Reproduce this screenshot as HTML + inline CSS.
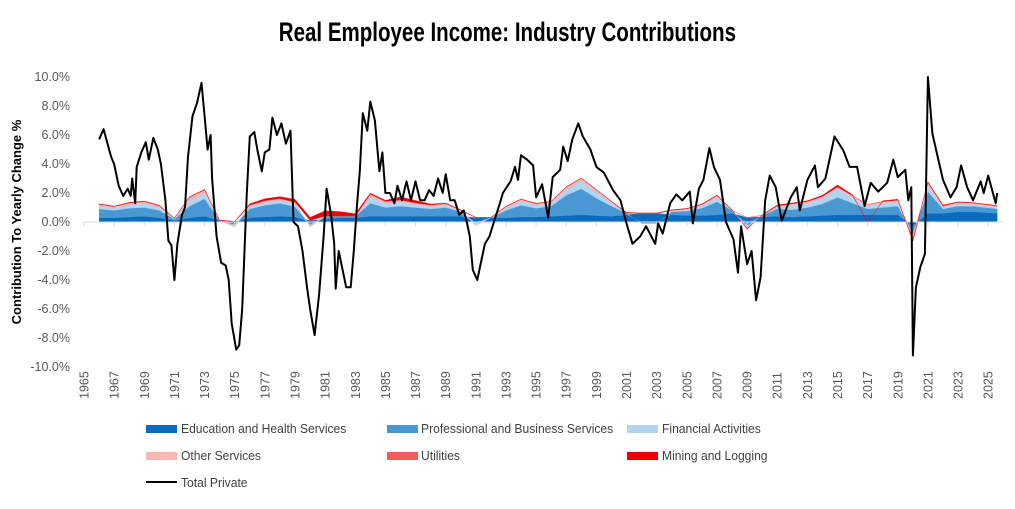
<!DOCTYPE html>
<html><head><meta charset="utf-8"><style>
body{margin:0;background:#fff;width:1015px;height:509px;overflow:hidden;font-family:"Liberation Sans",sans-serif}
#title{position:absolute;left:0;width:1015px;top:17px;text-align:center;font-family:"Liberation Sans",sans-serif;font-weight:bold;font-size:27px;color:#000;transform:scaleX(0.76);transform-origin:507px 0}
.leg{position:absolute;color:#404040;font-family:"Liberation Sans",sans-serif;font-size:13px;transform:scaleX(0.93);transform-origin:0 0}
.sw{position:absolute;width:31px;height:8px}
</style></head><body>
<div id="title">Real Employee Income: Industry Contributions</div>
<svg id="chart" width="1015" height="509" style="position:absolute;left:0;top:0"></svg>
<div>
<div class="sw" style="left:146px;top:425px;background:#0a6cbf"></div><div class="leg" style="left:181px;top:421px">Education and Health Services</div>
<div class="sw" style="left:387px;top:425px;background:#4a98d3"></div><div class="leg" style="left:421px;top:421px">Professional and Business Services</div>
<div class="sw" style="left:627px;top:425px;background:#b3d4ee"></div><div class="leg" style="left:662px;top:421px">Financial Activities</div>
<div class="sw" style="left:146px;top:452px;background:#f9b4b4"></div><div class="leg" style="left:181px;top:448px">Other Services</div>
<div class="sw" style="left:387px;top:452px;background:#f45b5b"></div><div class="leg" style="left:421px;top:448px">Utilities</div>
<div class="sw" style="left:627px;top:452px;background:#ee0000"></div><div class="leg" style="left:662px;top:448px">Mining and Logging</div>
<div class="sw" style="left:146px;top:481px;height:2px;background:#000"></div><div class="leg" style="left:181px;top:475px">Total Private</div>
</div>
<script>
const totalX=[1966.0,1966.3,1966.8,1967.0,1967.3,1967.6,1967.9,1968.1,1968.2,1968.4,1968.5,1968.8,1969.1,1969.3,1969.6,1969.9,1970.1,1970.4,1970.6,1970.8,1971.0,1971.2,1971.5,1971.7,1971.9,1972.2,1972.5,1972.8,1973.0,1973.2,1973.4,1973.5,1973.8,1974.1,1974.4,1974.6,1974.8,1975.1,1975.3,1975.5,1975.8,1976.0,1976.3,1976.5,1976.8,1977.0,1977.3,1977.5,1977.8,1978.1,1978.4,1978.7,1978.9,1979.2,1979.5,1979.8,1980.0,1980.3,1980.6,1980.9,1981.1,1981.4,1981.6,1981.7,1981.9,1982.1,1982.4,1982.7,1982.9,1983.1,1983.3,1983.5,1983.8,1984.0,1984.3,1984.6,1984.8,1985.0,1985.3,1985.6,1985.8,1986.1,1986.4,1986.7,1987.0,1987.3,1987.6,1987.9,1988.2,1988.5,1988.8,1989.0,1989.3,1989.6,1989.9,1990.2,1990.4,1990.6,1990.8,1991.1,1991.3,1991.6,1991.9,1992.2,1992.6,1992.8,1993.3,1993.6,1993.8,1994.0,1994.4,1994.8,1995.0,1995.4,1995.8,1996.1,1996.6,1996.8,1997.1,1997.4,1997.8,1998.1,1998.6,1999.0,1999.5,2000.1,2000.6,2001.0,2001.4,2001.9,2002.3,2002.9,2003.1,2003.4,2003.9,2004.3,2004.7,2005.2,2005.4,2005.8,2006.1,2006.5,2006.8,2007.2,2007.6,2008.1,2008.4,2008.6,2009.0,2009.3,2009.6,2009.9,2010.2,2010.5,2010.9,2011.3,2011.9,2012.3,2012.5,2013.0,2013.5,2013.7,2014.2,2014.8,2015.4,2015.8,2016.3,2016.8,2017.2,2017.7,2018.3,2018.7,2019.0,2019.5,2019.7,2019.9,2020.0,2020.2,2020.5,2020.8,2021.0,2021.3,2021.6,2022.0,2022.5,2022.9,2023.2,2023.6,2024.0,2024.5,2024.7,2025.0,2025.5,2025.6];
const totalY=[5.7,6.4,4.5,4.0,2.5,1.8,2.3,1.8,3.0,1.3,3.8,4.8,5.5,4.3,5.8,5.0,4.0,1.5,-1.3,-1.6,-4.0,-1.5,0.5,1.0,4.5,7.3,8.2,9.6,7.3,5.0,6.0,3.0,-1.0,-2.8,-3.0,-4.0,-7.0,-8.8,-8.5,-6.0,2.0,5.9,6.2,5.0,3.5,4.8,5.0,7.2,6.0,6.8,5.4,6.3,0.0,-0.3,-2.0,-4.5,-6.0,-7.8,-5.0,-1.0,2.3,0.5,-1.5,-4.6,-2.0,-3.0,-4.5,-4.5,-2.0,1.0,3.5,7.5,6.3,8.3,7.0,3.5,4.8,2.0,2.0,1.3,2.5,1.5,2.8,1.5,2.8,1.5,1.5,2.2,1.8,3.0,2.0,3.3,1.5,1.5,0.5,0.8,0.0,-1.0,-3.3,-4.0,-3.0,-1.5,-1.0,0.0,1.3,2.0,2.8,3.8,2.9,4.6,4.3,3.9,1.7,2.6,0.3,3.1,3.6,5.2,4.2,5.7,6.8,5.9,5.0,3.8,3.4,2.2,1.5,-0.1,-1.5,-1.0,-0.3,-1.5,-0.1,-0.8,1.3,1.9,1.5,2.1,-0.1,2.3,2.9,5.1,3.8,2.9,0.0,-1.2,-3.5,-0.3,-2.9,-2.0,-5.4,-3.8,1.5,3.2,2.4,0.1,1.7,2.4,0.8,2.9,3.9,2.4,3.0,5.9,4.9,3.8,3.8,1.1,2.7,2.1,2.7,4.3,3.1,3.6,1.5,2.4,-9.2,-4.5,-3.1,-2.2,10.0,6.1,4.7,2.9,1.7,2.4,3.9,2.4,1.5,2.8,2.0,3.2,1.3,2.0];
const years=[1966,1967,1968,1969,1970,1971,1972,1973,1974,1975,1976,1977,1978,1979,1980,1981,1982,1983,1984,1985,1986,1987,1988,1989,1990,1991,1992,1993,1994,1995,1996,1997,1998,1999,2000,2001,2002,2003,2004,2005,2006,2007,2008,2009,2010,2011,2012,2013,2014,2015,2016,2017,2018,2019,2020,2021,2022,2023,2024,2025.6];
const edu=[0.3,0.3,0.35,0.4,0.3,0.1,0.3,0.4,0.1,0.0,0.3,0.35,0.4,0.35,0.1,0.2,0.3,0.3,0.4,0.4,0.4,0.4,0.4,0.4,0.4,0.3,0.3,0.3,0.35,0.35,0.4,0.45,0.5,0.45,0.4,0.5,0.6,0.6,0.5,0.45,0.45,0.5,0.6,0.3,0.35,0.4,0.35,0.4,0.45,0.5,0.5,0.5,0.5,0.5,-0.3,0.6,0.6,0.7,0.7,0.6];
const prof=[0.6,0.5,0.6,0.6,0.5,0.1,0.8,1.2,0.0,-0.2,0.6,0.8,0.9,0.7,-0.2,0.2,0.1,0.1,0.9,0.6,0.7,0.6,0.5,0.6,0.3,-0.1,0.0,0.5,0.8,0.6,0.7,1.4,1.8,1.2,0.7,0.1,-0.1,-0.1,0.2,0.3,0.5,0.9,0.2,-0.3,0.1,0.5,0.5,0.6,0.8,1.2,0.8,0.4,0.5,0.6,-0.5,1.5,0.3,0.4,0.4,0.3];
const fin=[0.2,0.2,0.25,0.3,0.2,0.05,0.4,0.4,0.0,-0.1,0.15,0.2,0.2,0.2,-0.1,0.0,0.0,0.0,0.4,0.3,0.3,0.2,0.15,0.15,0.05,-0.1,0.0,0.15,0.3,0.2,0.2,0.4,0.5,0.4,0.2,0.0,0.0,0.0,0.05,0.1,0.2,0.3,0.0,-0.1,0.0,0.15,0.3,0.3,0.4,0.6,0.4,0.2,0.3,0.3,-0.1,0.4,0.1,0.15,0.1,0.1];
const other=[0.1,0.05,0.1,0.1,0.1,0.0,0.2,0.2,0.0,-0.05,0.1,0.1,0.1,0.1,-0.05,0.0,0.0,0.0,0.2,0.1,0.1,0.1,0.1,0.1,0.05,-0.05,0.0,0.1,0.1,0.1,0.1,0.15,0.2,0.15,0.1,0.0,0.0,0.0,0.05,0.05,0.05,0.1,0.0,-0.05,0.0,0.05,0.1,0.1,0.1,0.1,0.1,0.1,0.1,0.1,-0.3,0.2,0.1,0.1,0.1,0.1];
const util=[0.03,0.03,0.03,0.03,0.03,0.02,0.03,0.03,0.02,0.02,0.03,0.03,0.03,0.03,0.02,0.02,0.02,0.02,0.03,0.03,0.03,0.03,0.03,0.03,0.02,0.02,0.02,0.03,0.03,0.03,0.03,0.03,0.03,0.03,0.03,0.02,0.02,0.02,0.02,0.02,0.02,0.03,0.02,0.02,0.02,0.02,0.02,0.02,0.03,0.03,0.03,0.02,0.02,0.02,-0.05,0.03,0.02,0.02,0.02,0.02];
const mining=[0.02,0.02,0.02,0.02,0.02,0.0,0.02,0.02,0.02,0.02,0.08,0.12,0.12,0.18,0.2,0.35,0.3,0.15,0.06,0.06,0.2,0.15,0.06,0.03,0.02,0,0,0,0,0,0,0,0,0,0,0.05,0,0,0.02,0.02,0.03,0.03,0.03,-0.05,0.02,0.05,0.05,0.05,0.06,0.12,0.05,-0.05,0.05,0.05,-0.1,0.05,0.05,0.02,0.02,0.02];
const yTicks=[10,8,6,4,2,0,-2,-4,-6,-8,-10];
const xTickYears=[1965,1967,1969,1971,1973,1975,1977,1979,1981,1983,1985,1987,1989,1991,1993,1995,1997,1999,2001,2003,2005,2007,2009,2011,2013,2015,2017,2019,2021,2023,2025];

const NS='http://www.w3.org/2000/svg';
const svg=document.getElementById('chart');
const X=y=>84+(y-1965)*15.07;
const Y=v=>222-v*14.5;
function mk(tag,attrs,parent){const e=document.createElementNS(NS,tag);for(const k in attrs)e.setAttribute(k,attrs[k]);(parent||svg).appendChild(e);return e;}

yTicks.forEach(t=>{
  const tx=mk('text',{x:70,y:Y(t)+4,'text-anchor':'end','font-size':'12.5',fill:'#595959','font-family':'Liberation Sans, sans-serif'});
  tx.textContent=t.toFixed(1)+'%';
  
  
});
const yt=mk('text',{transform:'translate(21,222) rotate(-90)','text-anchor':'middle','font-size':'13','font-weight':'bold',fill:'#000'});
yt.textContent='Contribution To Yearly Change %';



const series=[edu,prof,fin,other,util,mining];
const colors=['#0a6cbf','#4a98d3','#b3d4ee','#f9b4b4','#f45b5b','#ee0000'];
const names=['area-education','area-professional','area-financial','area-other','area-utilities','area-mining'];
const posBase=years.map(()=>0), negBase=years.map(()=>0);
series.forEach((s,si)=>{
  const lo=[],hi=[];
  years.forEach((yr,i)=>{
    const v=s[i];
    if(v>=0){lo.push(posBase[i]);hi.push(posBase[i]+v);posBase[i]+=v;}
    else{lo.push(negBase[i]);hi.push(negBase[i]+v);negBase[i]+=v;}
  });
  let d='M'+years.map((yr,i)=>X(yr).toFixed(1)+','+Y(hi[i]).toFixed(1)).join('L');
  for(let i=years.length-1;i>=0;i--)d+='L'+X(years[i]).toFixed(1)+','+Y(lo[i]).toFixed(1);
  const p=mk('path',{d:d+'Z',fill:colors[si],stroke:colors[si],'stroke-width':'0.3'});
  
  
});

const ax=mk('line',{x1:X(1965),x2:X(2026),y1:Y(0),y2:Y(0),stroke:'#d9d9d9','stroke-width':'1'});


xTickYears.forEach(yr=>{
  const tk=mk('line',{x1:X(yr),x2:X(yr),y1:Y(0),y2:Y(0)+4,stroke:'#d9d9d9'});
  
  
  const tx=mk('text',{transform:`translate(${X(yr)+4.5},399) rotate(-90)`,'font-size':'12.5',fill:'#595959'});
  tx.textContent=yr;
  
  
});

const ln=mk('path',{d:'M'+totalX.map((x,i)=>X(x).toFixed(1)+','+Y(totalY[i]).toFixed(1)).join('L'),fill:'none',stroke:'#000','stroke-width':'2','stroke-linejoin':'round'});


</script>
</body></html>
